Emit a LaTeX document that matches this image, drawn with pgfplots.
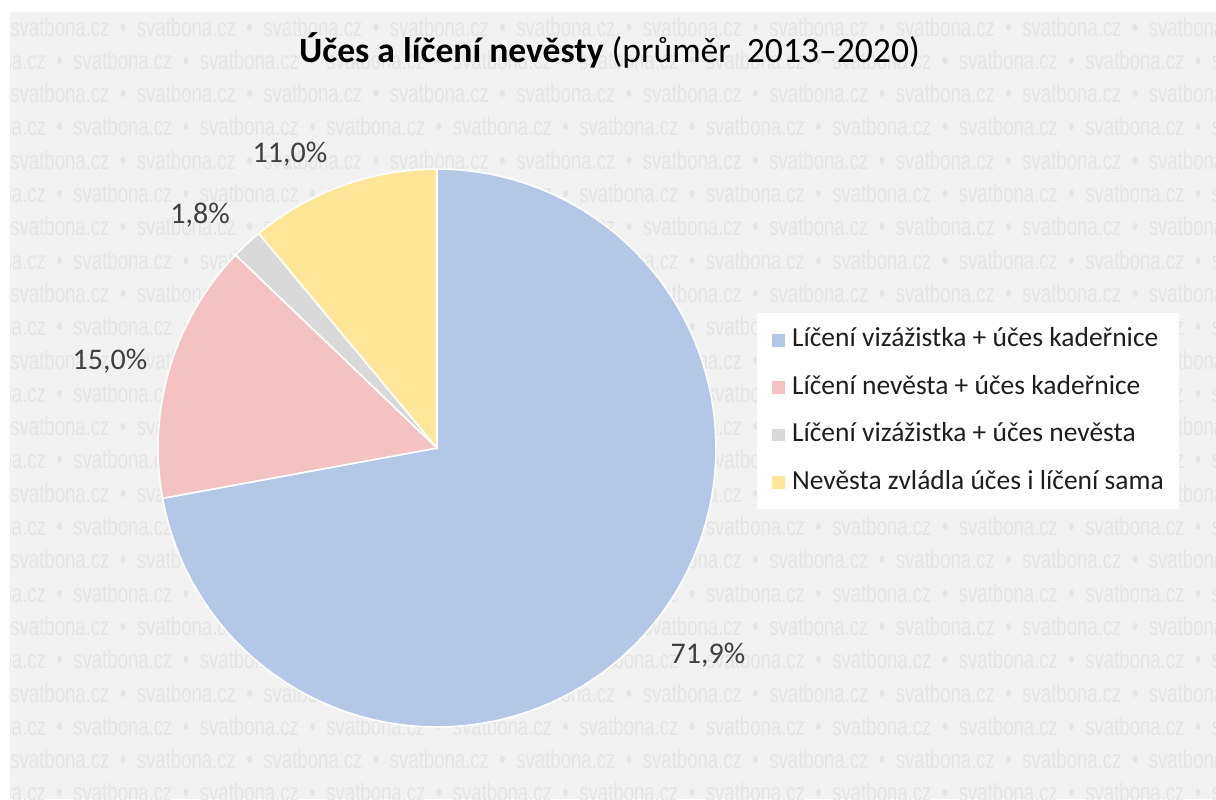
\documentclass[border=0pt]{standalone}
\usepackage{pgfplots}
\pgfplotsset{compat=1.18}
\usepackage{pgfplotstable}
\usepackage{graphicx}
\usepackage{fontspec}
\setmainfont{Carlito}
\newfontfamily\wmfont{Liberation Sans}

\definecolor{sblue}{HTML}{B4C7E7}
\definecolor{spink}{HTML}{F4C2C2}
\definecolor{sgray}{HTML}{D9D9D9}
\definecolor{syellow}{HTML}{FFE699}
\definecolor{bgc}{HTML}{F2F2F2}
\definecolor{wmc}{HTML}{E5E5E5}
\definecolor{lbl}{HTML}{404040}
\definecolor{legtxt}{HTML}{1E1E1E}

\pgfplotstableread{
idx value
0 71.9
1 15.0
2 1.8
3 11.0
}\pietable

\pgfplotstablegetelem{0}{value}\of\pietable \let\va\pgfplotsretval
\pgfplotstablegetelem{1}{value}\of\pietable \let\vb\pgfplotsretval
\pgfplotstablegetelem{2}{value}\of\pietable \let\vc\pgfplotsretval
\pgfplotstablegetelem{3}{value}\of\pietable \let\vd\pgfplotsretval
\pgfmathsetmacro\tot{\va+\vb+\vc+\vd}
\pgfmathsetmacro\aA{90}
\pgfmathsetmacro\aB{\aA-360*(\va/\tot)}
\pgfmathsetmacro\aC{\aB-360*(\vb/\tot)}
\pgfmathsetmacro\aD{\aC-360*(\vc/\tot)}
\pgfmathsetmacro\aE{\aD-360*(\vd/\tot)}

\newcommand\wmitem{\makebox[63.25pt][l]{\scalebox{0.86}[1.2]{svatbona.cz\hspace{6pt}\textbullet}}}
\newcommand\wmrow{\wmitem\wmitem\wmitem\wmitem\wmitem\wmitem\wmitem\wmitem\wmitem\wmitem\wmitem}

\begin{document}
\begin{tikzpicture}
\useasboundingbox (0,0) rectangle (608pt,-399.5pt);
\fill[white] (0,0) rectangle (608pt,-399.5pt);
\fill[bgc] (5pt,-6pt) rectangle (608pt,-399.5pt);
\begin{scope}
\clip (5pt,-6pt) rectangle (608pt,-399.5pt);
\foreach \k in {0,...,23}{
  \pgfmathsetmacro\yy{-(36+33.3*\k)/2}
  \pgfmathsetmacro\xx{ifthenelse(mod(\k,2)==0,5,-26.75)}
  \node[anchor=base west, inner sep=0pt, text=wmc, font=\wmfont\fontsize{10.8}{12}\selectfont] at (\xx pt,\yy pt) {\wmrow};
}
\end{scope}

\node[anchor=base, inner sep=0pt, text=black, font=\fontsize{17.8}{21}\selectfont] at (304.75pt,-31pt) {\textbf{Účes a líčení nevěsty} (průměr\ \ 2013–2020)};

\begin{axis}[
  at={(218.5pt,-224pt)}, anchor=center,
  width=279pt, height=279pt, scale only axis,
  xmin=-1, xmax=1, ymin=-1, ymax=1,
  hide axis, clip=false,
  legend cell align=left,
  legend style={
    at={(1.0735,0.7419)}, anchor=north west,
    draw=none, fill=white,
    inner xsep=5.5pt, inner ysep=5.2pt,
    row sep=7.2pt,
    nodes={inner sep=2pt, text height=9.5pt, text depth=3pt},
    font=\fontsize{13.75}{16}\selectfont, text=legtxt,
  },
]
\addplot[fill=sblue, draw=white, line width=0.8pt, domain=\aB:\aA, samples=150, data cs=polar,
  legend image code/.code={\path (0pt,0pt) -- (9pt,0pt); \fill[sblue] (2pt,-2.75pt) rectangle (7.5pt,2.75pt);}]
  ({x},{1}) -- (axis cs:0,0) -- cycle;
\addlegendentry{Líčení vizážistka + účes kadeřnice}
\addplot[fill=spink, draw=white, line width=0.8pt, domain=\aC:\aB, samples=50, data cs=polar,
  legend image code/.code={\path (0pt,0pt) -- (9pt,0pt); \fill[spink] (2pt,-2.75pt) rectangle (7.5pt,2.75pt);}]
  ({x},{1}) -- (axis cs:0,0) -- cycle;
\addlegendentry{Líčení nevěsta + účes kadeřnice}
\addplot[fill=sgray, draw=white, line width=0.8pt, domain=\aD:\aC, samples=10, data cs=polar,
  legend image code/.code={\path (0pt,0pt) -- (9pt,0pt); \fill[sgray] (2pt,-2.75pt) rectangle (7.5pt,2.75pt);}]
  ({x},{1}) -- (axis cs:0,0) -- cycle;
\addlegendentry{Líčení vizážistka + účes nevěsta}
\addplot[fill=syellow, draw=white, line width=0.8pt, domain=\aE:\aD, samples=40, data cs=polar,
  legend image code/.code={\path (0pt,0pt) -- (9pt,0pt); \fill[syellow] (2pt,-2.75pt) rectangle (7.5pt,2.75pt);}]
  ({x},{1}) -- (axis cs:0,0) -- cycle;
\addlegendentry{Nevěsta zvládla účes i líčení sama}

\node[anchor=base, inner sep=0pt, text=lbl, font=\fontsize{15}{18}\selectfont] at (axis cs:0.971,-0.771) {71,9\%};
\node[anchor=base, inner sep=0pt, text=lbl, font=\fontsize{15}{18}\selectfont] at (axis cs:-1.172,0.280) {15,0\%};
\node[anchor=base, inner sep=0pt, text=lbl, font=\fontsize{15}{18}\selectfont] at (axis cs:-0.849,0.806) {1,8\%};
\node[anchor=base, inner sep=0pt, text=lbl, font=\fontsize{15}{18}\selectfont] at (axis cs:-0.527,1.022) {11,0\%};
\end{axis}
\end{tikzpicture}
\end{document}
